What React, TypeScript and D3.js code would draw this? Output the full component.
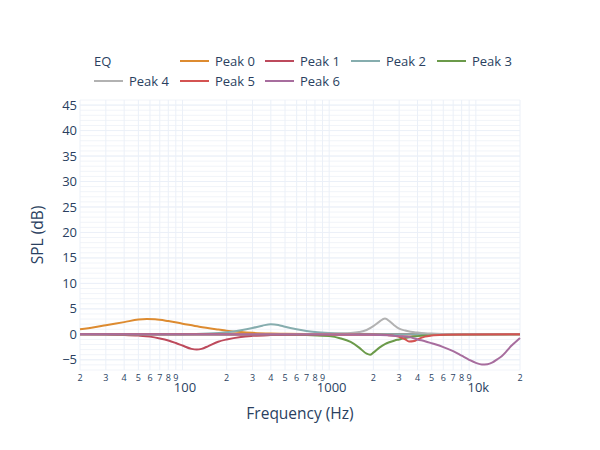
import React from "react";
import * as d3 from "d3";

// ---------- data ----------
const seriesNames = ["Peak 0", "Peak 1", "Peak 2", "Peak 3", "Peak 4", "Peak 5", "Peak 6"];
const seriesColors = ["#dd8b30", "#bd4a5c", "#86adae", "#6b9a4a", "#b2b2b2", "#d45352", "#a76d9e"];

const peak0Freq = [20, 25, 30, 40, 50, 57, 65, 80, 100, 130, 175, 200, 250, 300, 400, 500, 700, 1000, 2000, 20000];
const peak0Gain = [1.0, 1.4, 1.8, 2.4, 2.9, 3.0, 2.95, 2.6, 2.1, 1.5, 0.95, 0.72, 0.45, 0.3, 0.16, 0.1, 0.05, 0.02, 0, 0];

const peak1Freq = [20, 30, 40, 50, 60, 70, 80, 90, 100, 115, 125, 135, 150, 175, 200, 250, 300, 400, 600, 1000, 20000];
const peak1Gain = [0, -0.05, -0.12, -0.25, -0.45, -0.8, -1.2, -1.7, -2.2, -2.85, -3.0, -2.85, -2.3, -1.45, -1.0, -0.5, -0.3, -0.15, -0.06, -0.02, 0];

const peak2Freq = [20, 100, 150, 200, 250, 300, 350, 400, 450, 500, 600, 700, 800, 1000, 1200, 1500, 2000, 3000, 20000];
const peak2Gain = [0, 0.03, 0.15, 0.4, 0.8, 1.25, 1.7, 2.0, 1.85, 1.5, 1.0, 0.65, 0.45, 0.25, 0.15, 0.1, 0.05, 0.02, 0];

const peak3Freq = [20, 500, 700, 1000, 1200, 1400, 1600, 1800, 1900, 2000, 2200, 2400, 2600, 2800, 3000, 3300, 3600, 4000, 4500, 5000, 6000, 7000, 20000];
const peak3Gain = [0, -0.05, -0.15, -0.35, -0.8, -1.5, -2.6, -3.8, -4.0, -3.6, -2.6, -1.9, -1.5, -1.2, -1.0, -0.7, -0.5, -0.35, -0.22, -0.15, -0.08, -0.05, 0];

const peak4Freq = [20, 800, 1000, 1400, 1600, 1800, 2000, 2200, 2400, 2600, 2800, 3000, 3300, 3600, 4000, 4500, 5000, 6000, 8000, 20000];
const peak4Gain = [0, 0.05, 0.1, 0.25, 0.45, 0.85, 1.6, 2.5, 3.1, 2.5, 1.7, 1.1, 0.75, 0.5, 0.35, 0.22, 0.15, 0.08, 0.03, 0];

const peak5Freq = [20, 1500, 2000, 2500, 2800, 3000, 3300, 3500, 3800, 4000, 4500, 5000, 6000, 8000, 20000];
const peak5Gain = [0, -0.02, -0.05, -0.15, -0.3, -0.5, -1.0, -1.4, -1.3, -1.0, -0.45, -0.25, -0.1, -0.03, 0];

const peak6Freq = [20, 1000, 2000, 2500, 3000, 3600, 4000, 4500, 5000, 6000, 7000, 8000, 9000, 10000, 11000, 12000, 13000, 14000, 15000, 16000, 17000, 18000, 20000];
const peak6Gain = [0, -0.02, -0.1, -0.2, -0.35, -0.6, -1.0, -1.35, -1.75, -2.5, -3.3, -4.2, -5.0, -5.6, -5.9, -5.85, -5.5, -4.9, -4.3, -3.5, -2.6, -1.9, -0.7];

const seriesFreqs = [peak0Freq, peak1Freq, peak2Freq, peak3Freq, peak4Freq, peak5Freq, peak6Freq];
const seriesGains = [peak0Gain, peak1Gain, peak2Gain, peak3Gain, peak4Gain, peak5Gain, peak6Gain];

const yTickValues = [-5, 0, 5, 10, 15, 20, 25, 30, 35, 40, 45];
const xDecades = [10, 100, 1000, 10000];
const xDigits = [1, 2, 3, 4, 5, 6, 7, 8, 9];
const xMajorValues = [100, 1000, 10000];
const xMajorLabels = ["100", "1000", "10k"];

const legendTitle = "EQ";
const xTitle = "Frequency (Hz)";
const yTitle = "SPL (dB)";

// ---------- layout ----------
const W = 600;
const H = 450;
const L = 80;
const R = 520;
const T = 100;
const B = 370;
const FONT = "'Open Sans', Verdana, Arial, sans-serif";
const TEXT = "#2a3f5f";

export default function App() {
  const x = d3.scaleLog().domain([20, 20000]).range([L, R]);
  const y = d3.scaleLinear().domain([-7, 46]).range([B, T]);

  const logTicks: number[] = [];
  xDecades.forEach((d) =>
    xDigits.forEach((k) => {
      const f = d * k;
      if (f >= 20 && f <= 20000) logTicks.push(f);
    })
  );
  const minorY = d3.range(-7, 47, 1);

  const line = d3
    .line<[number, number]>()
    .x((d) => x(d[0]))
    .y((d) => y(d[1]))
    .curve(d3.curveMonotoneX);

  const legendItems = [
    { i: 0, lx: 180, ly: 61 },
    { i: 1, lx: 265, ly: 61 },
    { i: 2, lx: 351, ly: 61 },
    { i: 3, lx: 437, ly: 61 },
    { i: 4, lx: 94, ly: 81 },
    { i: 5, lx: 180, ly: 81 },
    { i: 6, lx: 265, ly: 81 },
  ];

  return (
    <svg
      width={W}
      height={H}
      style={{ position: "absolute", left: 0, top: 0, background: "#fff" }}
      fontFamily={FONT}
    >
      <rect x={0} y={0} width={W} height={H} fill="#fff" />
      {/* minor horizontal grid */}
      {minorY.map((v) => (
        <line key={"my" + v} x1={L} x2={R} y1={y(v)} y2={y(v)} stroke="#f1f4f9" strokeWidth={1} />
      ))}
      {/* major horizontal grid */}
      {yTickValues.map((v) => (
        <line key={"gy" + v} x1={L} x2={R} y1={y(v)} y2={y(v)} stroke="#ebf0f8" strokeWidth={1} />
      ))}
      {/* vertical grid */}
      {logTicks.map((f) => (
        <line key={"gx" + f} x1={x(f)} x2={x(f)} y1={T} y2={B} stroke="#ebf0f8" strokeWidth={1} />
      ))}
      {/* series */}
      {seriesFreqs.map((fs, i) => (
        <path
          key={"s" + i}
          d={line(fs.map((f, j) => [f, seriesGains[i][j]] as [number, number])) || ""}
          fill="none"
          stroke={seriesColors[i]}
          strokeWidth={2}
          strokeLinejoin="round"
        />
      ))}
      {/* y tick labels */}
      {yTickValues.map((v) => (
        <text key={"ty" + v} x={L - 3} y={y(v)} dy="0.35em" textAnchor="end" fontSize={13} fill={TEXT}>
          {v < 0 ? "\u2212" + Math.abs(v) : String(v)}
        </text>
      ))}
      {/* x tick labels: small digits */}
      {logTicks
        .filter((f) => !xMajorValues.includes(f))
        .map((f) => (
          <text key={"tx" + f} x={x(f)} y={380.5} textAnchor="middle" fontSize={9} fill={TEXT}>
            {String(Math.round(f / Math.pow(10, Math.floor(Math.log10(f) + 1e-9))))}
          </text>
        ))}
      {xMajorValues.map((f, i) => (
        <text key={"tm" + f} x={x(f) + 2.5} y={392} textAnchor="middle" fontSize={13} fill={TEXT}>
          {xMajorLabels[i]}
        </text>
      ))}
      {/* axis titles */}
      <text x={(L + R) / 2} y={418.5} textAnchor="middle" fontSize={15.5} fill={TEXT}>
        {xTitle}
      </text>
      <text
        transform={`translate(43,${(T + B) / 2}) rotate(-90)`}
        textAnchor="middle"
        fontSize={15.5}
        fill={TEXT}
      >
        {yTitle}
      </text>
      {/* legend */}
      <text x={94} y={65.5} fontSize={13} fill={TEXT}>
        {legendTitle}
      </text>
      {legendItems.map(({ i, lx, ly }) => (
        <g key={"lg" + i}>
          <line x1={lx} x2={lx + 29} y1={ly} y2={ly} stroke={seriesColors[i]} strokeWidth={2} />
          <text x={lx + 35} y={ly + 4.5} fontSize={13} fill={TEXT}>
            {seriesNames[i]}
          </text>
        </g>
      ))}
    </svg>
  );
}
